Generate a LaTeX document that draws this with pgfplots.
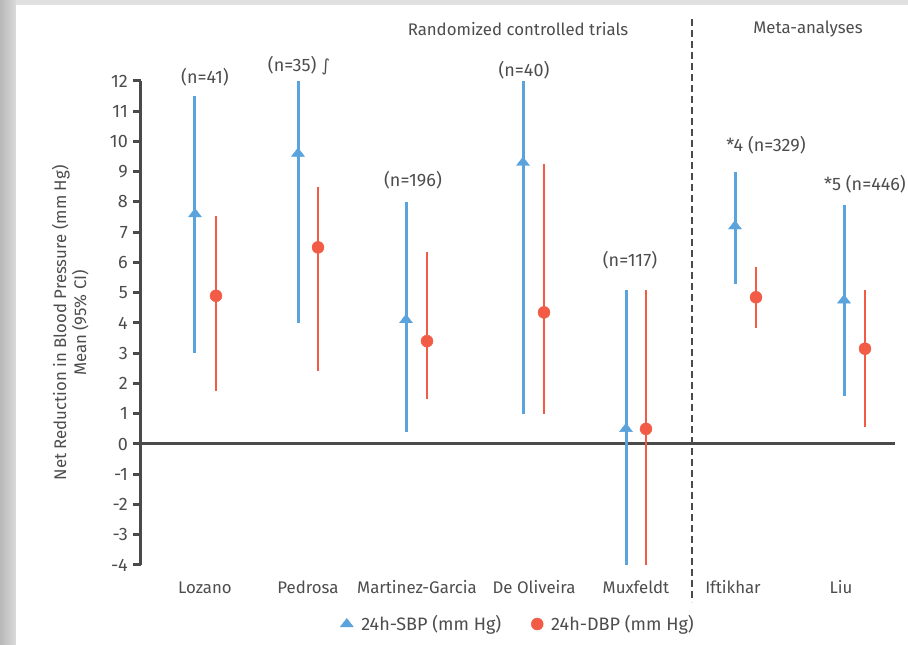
\documentclass[border=0pt]{standalone}
\usepackage{fontspec}
\setmainfont{Fira Sans}
\newfontfamily\djv{DejaVu Sans}
\usepackage{pgfplots}
\pgfplotsset{compat=1.18}
\usepackage{pgfplotstable}
\definecolor{sbp}{HTML}{5AA3DC}
\definecolor{dbp}{HTML}{F25C46}
\definecolor{axc}{HTML}{4A4A4A}
\definecolor{txt}{HTML}{4D4D4D}
\newcommand\fs{\fontsize{16.8}{20}\selectfont}
\newcommand\fn{\fontsize{18}{20}\selectfont}

% x = position (pixel-like units), y = mean, ep/em = CI above/below mean
\pgfplotstableread{
x y ep em
195 7.6 3.9 4.6
298 9.6 2.4 5.6
406 4.1 3.9 3.7
523 9.3 2.7 8.3
626 0.5 4.6 4.5
735 7.2 1.8 1.9
844 4.75 3.15 3.15
}\sbptab
\pgfplotstableread{
x y ep em
216 4.9 2.65 3.15
318 6.5 2.0 4.1
427 3.4 2.95 1.9
544 4.35 4.9 3.35
646 0.5 4.6 4.5
756 4.85 1.0 1.0
865 3.15 1.95 2.6
}\dbptab

\begin{document}
\begin{tikzpicture}[font=\fs]
% background card
\fill[black!12] (-141pt,-80pt) rectangle (767pt,565pt);
\shade[left color=black!28, right color=black!14] (-141pt,-80pt) rectangle (-125pt,565pt);
\fill[white] (-125pt,-80pt) rectangle (767pt,560pt);

\begin{axis}[
  at={(0,0)}, anchor=south west, scale only axis,
  width=754pt, height=484pt,
  xmin=141, xmax=895, ymin=-4, ymax=12,
  clip=false,
  axis x line*=bottom, axis y line*=left,
  x axis line style={draw=none},
  y axis line style={-, line width=3pt, color=axc},
  ytick={-4,...,12},
  xtick={205,308,417,534,636,733,841},
  xticklabels={Lozano,Pedrosa,Martinez-Garcia,De Oliveira,Muxfeldt,Iftikhar,Liu},
  x tick style={draw=none},
  y tick style={line width=3pt, color=axc},
  tick align=outside, major tick length=8pt,
  /pgf/number format/assume math mode=true,
  every tick label/.append style={font=\fs, text=txt},
  yticklabel style={anchor=east, inner sep=0pt, xshift=-5pt, font=\fn},
  xticklabel style={anchor=base, inner sep=0pt, yshift=-21pt},
  ylabel={Net Reduction in Blood Pressure (mm Hg)\\Mean (95\% CI)},
  ylabel style={at={(axis description cs:-0.094,0.5)}, anchor=center, align=center, font=\fs, text=txt},
  legend style={at={(axis description cs:0.5,-0.122)}, anchor=center, draw=none, fill=none,
    legend columns=2, font=\fn, text=txt,
    /tikz/every odd column/.append style={column sep=6pt},
    /tikz/every even column/.append style={column sep=28pt}},
]
\draw[axc, line width=3pt] (axis cs:141,0) -- (axis cs:895,0);
\addplot[sbp, only marks, mark=triangle*, mark size=7.5pt, mark options={yscale=0.75}, forget plot,
  error bars/.cd, y dir=both, y explicit, error mark=none,
  error bar style={line width=3pt, sbp}]
  table[x=x, y=y, y error plus=ep, y error minus=em] {\sbptab};
\addplot[dbp, only marks, mark=*, mark size=6pt, forget plot,
  error bars/.cd, y dir=both, y explicit, error mark=none,
  error bar style={line width=2.6pt, dbp}]
  table[x=x, y=y, y error plus=ep, y error minus=em] {\dbptab};
\addlegendimage{only marks, mark=triangle*, mark size=7.5pt, mark options={yscale=0.75}, sbp}
\addlegendentry{24h-SBP (mm Hg)}
\addlegendimage{only marks, mark=*, mark size=6pt, dbp}
\addlegendentry{24h-DBP (mm Hg)}
\end{axis}

% dashed separator
\draw[axc, line width=2.2pt, dash pattern=on 7pt off 4pt] (551pt,546pt) -- (551pt,-37pt);

% annotations (pixel (px,py) -> (px-141, 565-py))
\begin{scope}[every node/.style={text=txt, font=\fs, anchor=center, inner sep=0pt}]
\node at (377pt,536pt) {Randomized controlled trials};
\node at (667pt,536pt) {Meta-analyses};
\begin{scope}[every node/.append style={font=\fn}]
\node at (64pt,488pt) {(n=41)};
\node at (158pt,499pt) {(n=35) {\djv\fs ∫}};
\node at (272pt,385pt) {(n=196)};
\node at (383pt,495pt) {(n=40)};
\node at (489pt,305pt) {(n=117)};
\node at (625pt,420pt) {*4 (n=329)};
\node at (724pt,381pt) {*5 (n=446)};
\end{scope}
\end{scope}

\pgfresetboundingbox
\useasboundingbox (-141pt,-80pt) rectangle (767pt,565pt);
\end{tikzpicture}
\end{document}
